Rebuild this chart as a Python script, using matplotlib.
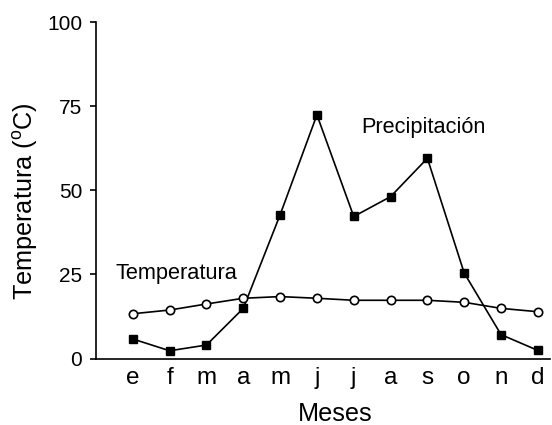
import matplotlib
matplotlib.use("Agg")
import matplotlib.pyplot as plt

months = ["e", "f", "m", "a", "m", "j", "j", "a", "s", "o", "n", "d"]
precip = [5.8, 2.3, 4.0, 14.9, 42.7, 72.4, 42.2, 48.1, 59.5, 25.4, 7.1, 2.4]
temp = [13.3, 14.4, 16.2, 17.9, 18.4, 17.9, 17.3, 17.3, 17.3, 16.7, 14.9, 13.9]
yticks = [0, 25, 50, 75, 100]

plt.rcParams["font.family"] = ["Liberation Sans", "DejaVu Sans"]
plt.rcParams["mathtext.fontset"] = "custom"
plt.rcParams["mathtext.rm"] = "Liberation Sans"
plt.rcParams["font.size"] = 15

fig = plt.figure(figsize=(5.52, 4.25), dpi=100)
ax = fig.add_axes([96 / 552, 66.5 / 425, 454 / 552, 336.5 / 425])

x = list(range(len(months)))
ax.plot(x, precip, color="black", lw=1.2, marker="s", ms=6,
        mfc="black", mec="black", zorder=3)
ax.plot(x, temp, color="black", lw=1.2, marker="o", ms=6,
        mfc="white", mec="black", mew=1.2, zorder=4)

ax.text(6.2, 68.5, "Precipitación", va="center", ha="left", fontsize=15.7)
ax.text(-0.46, 25.2, "Temperatura", va="center", ha="left", fontsize=15.7)

ax.set_xlim(-1, 11.33)
ax.set_ylim(0, 100)
ax.set_xticks(x, months)
ax.set_yticks(yticks)
ax.tick_params(axis="x", length=0, pad=6, labelsize=17.5)
ax.tick_params(axis="y", length=4, width=1.2, direction="out", pad=6)
for s in ["top", "right"]:
    ax.spines[s].set_visible(False)
for s in ["left", "bottom"]:
    ax.spines[s].set_linewidth(1.2)

ax.set_xlabel("Meses", fontsize=18.2, labelpad=9.5)
ax.xaxis.label.set_x(0.526)
ax.set_ylabel("Temperatura ($\\mathregular{^{o}}$C)", fontsize=18.2, labelpad=5)
ax.yaxis.label.set_y(0.4666)

fig.savefig("out.png", dpi=100)
